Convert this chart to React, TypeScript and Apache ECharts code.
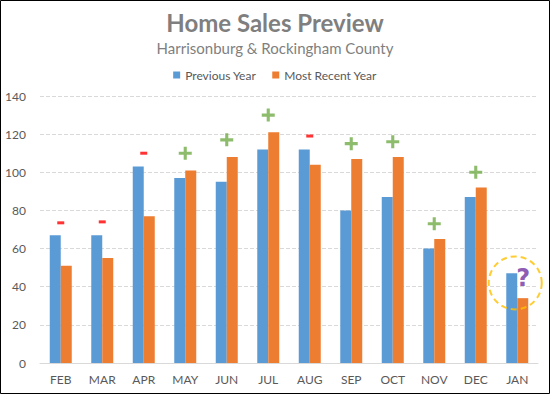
import React, { useEffect, useRef } from "react";
import * as echarts from "echarts";

const categories = ["FEB", "MAR", "APR", "MAY", "JUN", "JUL", "AUG", "SEP", "OCT", "NOV", "DEC", "JAN"];
const previousYear = [67, 67, 103, 97, 95, 112, 112, 80, 87, 60, 87, 47];
const mostRecentYear = [51, 55, 77, 101, 108, 121, 104, 107, 108, 65, 92, 34];
// change markers: "+" up, "-" down, "?" unknown
const markerTypes = ["-", "-", "-", "+", "+", "+", "-", "+", "+", "+", "+", "?"];
const markerValues = [73.5, 74, 110, 110, 117, 130, 119, 115, 116, 73, 100, 44.5];
const circleValue = 42;
const yTicks = { min: 0, max: 140, interval: 20 };

const PLUS = "path://M3.8,0H6.2V3.8H10V6.2H6.2V10H3.8V6.2H0V3.8H3.8Z";
const FONT = "Lato, 'Open Sans', sans-serif";

export default function App() {
  const ref = useRef<HTMLDivElement>(null);
  useEffect(() => {
    if (!ref.current) return;
    const chart = echarts.init(ref.current, null, { renderer: "svg" });
    const markerData = markerTypes
      .map((t, i) => {
        if (t === "?") return null;
        return {
          value: [categories[i], markerValues[i]],
          symbol: t === "+" ? PLUS : "rect",
          symbolSize: t === "+" ? [13, 13] : [7, 3],
          itemStyle: { color: t === "+" ? "#70AD47" : "#FF0000" },
        };
      })
      .filter(Boolean);
    const qIdx = markerTypes.indexOf("?");
    chart.setOption({
      animation: false,
      textStyle: { fontFamily: FONT },
      title: {
        text: "Home Sales Preview",
        subtext: "Harrisonburg & Rockingham County",
        left: "center",
        top: 5,
        itemGap: 6,
        textStyle: { fontSize: 24, fontWeight: "bold", color: "#7F7F7F", fontFamily: FONT },
        subtextStyle: { fontSize: 15, color: "#7F7F7F", fontFamily: FONT },
      },
      legend: {
        top: 64,
        left: "center",
        itemWidth: 7,
        itemHeight: 7,
        itemGap: 16,
        icon: "rect",
        data: ["Previous Year", "Most Recent Year"],
        textStyle: { fontSize: 12, color: "#595959", fontFamily: FONT },
      },
      grid: { left: 40, right: 12, top: 96, bottom: 31, containLabel: false },
      xAxis: {
        type: "category",
        data: categories,
        axisLine: { lineStyle: { color: "#D9D9D9", width: 1 } },
        axisTick: { show: false },
        axisLabel: { color: "#595959", fontSize: 12, margin: 10, fontFamily: FONT },
      },
      yAxis: {
        type: "value",
        min: yTicks.min,
        max: yTicks.max,
        interval: yTicks.interval,
        axisLine: { show: false },
        axisTick: { show: false },
        axisLabel: { color: "#595959", fontSize: 12, margin: 14, fontFamily: FONT },
        splitLine: { lineStyle: { color: "#D9D9D9", type: "dashed" } },
      },
      series: [
        {
          name: "Previous Year",
          type: "bar",
          data: previousYear,
          barWidth: 11,
          barGap: "0%",
          itemStyle: { color: "#5B9BD5" },
        },
        {
          name: "Most Recent Year",
          type: "bar",
          data: mostRecentYear,
          barWidth: 11,
          barGap: "0%",
          itemStyle: { color: "#ED7D31" },
        },
        {
          name: "markers",
          type: "scatter",
          data: markerData,
          z: 5,
        },
        {
          name: "unknown",
          type: "scatter",
          symbol: "circle",
          symbolSize: 1,
          itemStyle: { color: "transparent" },
          data: [[categories[qIdx], markerValues[qIdx]]],
          label: {
            show: true,
            position: "inside",
            offset: [6, 0],
            formatter: "?",
            fontSize: 24,
            fontWeight: "bold",
            color: "#7030A0",
            fontFamily: "'DejaVu Sans', sans-serif",
          },
          z: 6,
        },
        {
          name: "circle",
          type: "scatter",
          symbol: "circle",
          symbolSize: 53,
          symbolOffset: [-2, 0],
          data: [[categories[qIdx], circleValue]],
          itemStyle: {
            color: "rgba(0,0,0,0)",
            borderColor: "#FFC000",
            borderWidth: 2,
            borderType: [6, 4],
          },
          z: 7,
        },
      ],
      graphic: [
        {
          type: "rect",
          shape: { x: 0.5, y: 0.5, width: 549, height: 393 },
          style: { fill: "none", stroke: "#000", lineWidth: 1 },
          silent: true,
        },
      ],
    });
    return () => chart.dispose();
  }, []);
  return (
    <div
      ref={ref}
      style={{ position: "fixed", left: 0, top: 0, width: 550, height: 394, background: "#fff" }}
    />
  );
}
